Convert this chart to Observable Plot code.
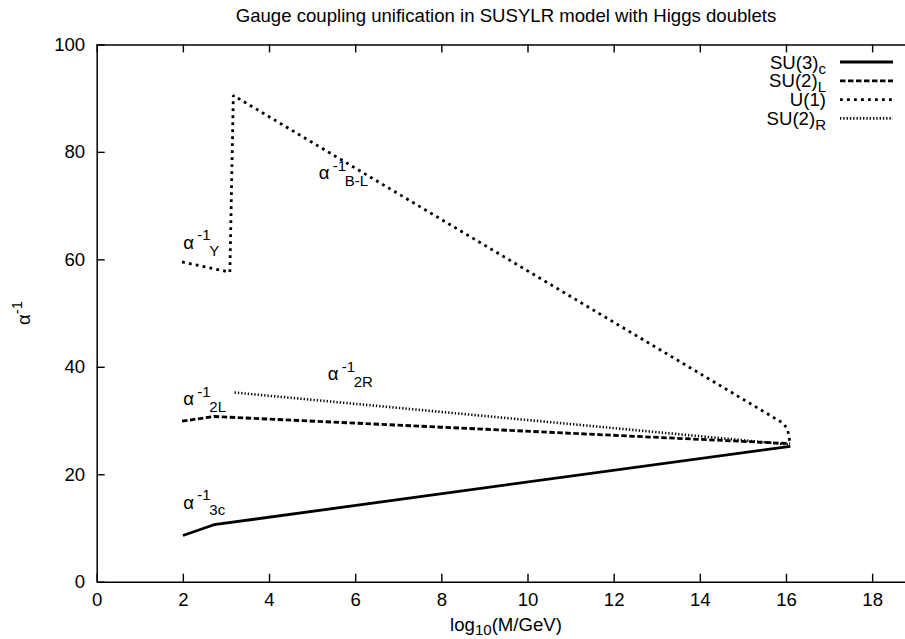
<!DOCTYPE html>
<html><head><meta charset="utf-8">
<script src="https://cdn.jsdelivr.net/npm/d3@7"></script>
<script src="https://cdn.jsdelivr.net/npm/@observablehq/plot@0.6"></script>
<style>body{margin:0;background:#fff} svg{display:block}</style>
</head><body><div id="chart"></div>
<script>
const xTicks = [0,2,4,6,8,10,12,14,16,18];
const yTicks = [0,20,40,60,80,100];
const su3cX = [1.99, 2.71, 16.09];
const su3cY = [8.7, 10.7, 25.3];
const su2lX = [1.97, 2.71, 16.08];
const su2lY = [29.97, 30.84, 25.8];
const u1X = [1.97, 3.08, 3.16, 15.9, 16.0, 16.05, 16.08];
const u1Y = [59.6, 57.7, 90.6, 29.7, 28.8, 27.6, 26.0];
const su2rX = [3.19, 16.08];
const su2rY = [35.3, 25.6];
const seriesNames = ["SU(3)", "SU(2)", "U(1)", "SU(2)"];
const seriesSubs = ["c", "L", "", "R"];
const labelSubs = ["Y", "B-L", "2R", "2L", "3c"];
const labelX = [2.0, 5.14, 5.35, 2.0, 2.0];
const labelY = [62.05, 75.0, 37.55, 32.9, 13.7];
const titleText = "Gauge coupling unification in SUSYLR model with Higgs doublets";

const toPts = (xs, ys) => xs.map((x, i) => ({x, y: ys[i]}));
const series = [toPts(su3cX, su3cY), toPts(su2lX, su2lY), toPts(u1X, u1Y), toPts(su2rX, su2rY)];
const styles = [
  {w: 2.8, dash: null},
  {w: 2.8, dash: "5.5,2.5"},
  {w: 2.8, dash: "2.8,4.2"},
  {w: 2.6, dash: "1.3,2"}
];
const labels = labelSubs.map((s, i) => ({sub: s, x: labelX[i], y: labelY[i]}));

const W = 905, H = 639, mL = 96.7, mT = 44.4, mB = 57.3, mR = 0;
const plotW = W - mL - mR, plotH = H - mT - mB;
const FONT = "'Liberation Sans', Arial, Helvetica, sans-serif";

const chart = Plot.plot({
  width: W, height: H,
  marginLeft: mL, marginRight: mR, marginTop: mT, marginBottom: mB,
  style: {fontFamily: FONT, fontSize: "18.6px", background: "#fff", color: "#000", overflow: "visible"},
  x: {domain: [0, (W - mL) / 43.08], label: null},
  y: {domain: [0, 100], label: null},
  marks: [
    ...series.map((s, i) => Plot.line(s, {x: "x", y: "y", stroke: "black", strokeWidth: styles[i].w,
      strokeDasharray: styles[i].dash, strokeLinecap: "butt", strokeLinejoin: "miter"})),
    Plot.ruleY([yTicks[0], yTicks[yTicks.length - 1]], {stroke: "black", strokeWidth: 1.5}),
    Plot.ruleX([xTicks[0]], {stroke: "black", strokeWidth: 1.5}),
    Plot.tickX(xTicks, {x: d => d, insetTop: plotH - 8, stroke: "black", strokeWidth: 1.4}),
    Plot.tickX(xTicks, {x: d => d, insetBottom: plotH - 8, stroke: "black", strokeWidth: 1.4}),
    Plot.tickY(yTicks, {y: d => d, insetRight: plotW - 8, stroke: "black", strokeWidth: 1.4}),
    Plot.axisX({ticks: xTicks, tickSize: 0, tickPadding: 11, label: null, tickFormat: d => String(d)}),
    Plot.axisY({ticks: yTicks, tickSize: 0, tickPadding: 12, label: null, tickFormat: d => String(d)}),
    Plot.text(labels, {x: "x", y: "y", text: () => "α", textAnchor: "start", lineAnchor: "bottom", fontSize: 18.6}),
    Plot.text(labels, {x: "x", y: "y", text: () => "-1", dx: 14, dy: -8.5, textAnchor: "start", lineAnchor: "bottom", fontSize: 15}),
    Plot.text(labels, {x: "x", y: "y", text: "sub", dx: 26, dy: 6.7, textAnchor: "start", lineAnchor: "bottom", fontSize: 15})
  ]
});
document.getElementById("chart").appendChild(chart);

const svg = d3.select(chart);
svg.append("text").attr("x", 506).attr("y", 22).attr("text-anchor", "middle")
  .attr("font-size", 18.6).attr("fill", "black").text(titleText);

const xl = svg.append("text").attr("x", 506).attr("y", 630.5).attr("text-anchor", "middle")
  .attr("font-size", 18.6).attr("fill", "black");
xl.append("tspan").text("log");
xl.append("tspan").attr("dy", 4.5).attr("font-size", 15).text("10");
xl.append("tspan").attr("dy", -4.5).text("(M/GeV)");

const yl = svg.append("text").attr("transform", "translate(30,313) rotate(-90)")
  .attr("text-anchor", "middle").attr("font-size", 18.6).attr("fill", "black");
yl.append("tspan").text("α");
yl.append("tspan").attr("dy", -8).attr("font-size", 15).text("-1");

seriesNames.forEach((name, i) => {
  const ry = 62 + i * 18.8;
  const t = svg.append("text").attr("x", 826).attr("y", ry + 6.5).attr("text-anchor", "end")
    .attr("font-size", 18.6).attr("fill", "black");
  t.append("tspan").text(name);
  if (seriesSubs[i]) t.append("tspan").attr("dy", 5).attr("font-size", 15).text(seriesSubs[i]);
  svg.append("line").attr("x1", 840).attr("x2", 893).attr("y1", ry).attr("y2", ry)
    .attr("stroke", "black").attr("stroke-width", styles[i].w)
    .attr("stroke-dasharray", styles[i].dash);
});
</script></body></html>
